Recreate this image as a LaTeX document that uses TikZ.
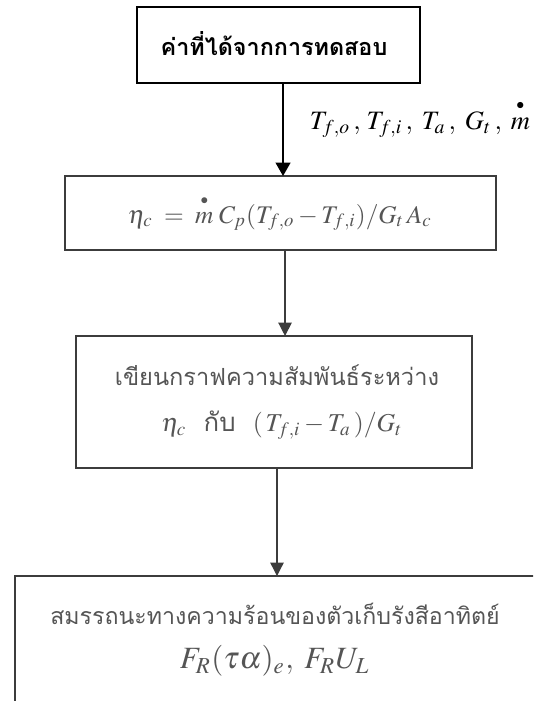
\documentclass[tikz,border=0pt]{standalone}
\usepackage{amsmath}
\usepackage{mathptmx}
\usepackage[no-math]{fontspec}
\newfontfamily\thaifont[Script=Thai]{Loma}
\usetikzlibrary{arrows.meta}
\definecolor{txtgray}{HTML}{555555}
\definecolor{linegray}{HTML}{3C3C3C}
\newcommand{\mdotsym}{\overset{\raisebox{0.1em}{\scalebox{0.6}{$\bullet$}}}{m}}
\begin{document}
\begin{tikzpicture}[x=0.75pt,y=-0.75pt,
  box/.style={draw, rectangle, inner sep=0pt, outer sep=0pt},
  arrA/.style={line width=1.5pt, -{Triangle[length=10pt,width=11pt]}},
  arrB/.style={draw=linegray, line width=1pt, -{Triangle[length=10pt,width=10pt]}},
  lbl/.style={inner sep=0pt, text=txtgray}]
\useasboundingbox (0,0) rectangle (533,701);
\clip (0,0) rectangle (533,701);

\node[box, line width=1.3pt, minimum width=212.25pt, minimum height=57pt] (box1) at (278.5,45) {};
\node[inner sep=0pt] (b1t) at (274,44)
      {\resizebox{170pt}{!}{\thaifont\bfseries ค่าที่ได้จากการทดสอบ}};

\node[box, draw=linegray, line width=1pt, minimum width=323.25pt, minimum height=55.5pt] (box2) at (280.5,213) {};
\node[lbl] (b2t) at (280,213)
      {\resizebox{228pt}{!}{$\eta_c\;=\;\mdotsym\;C_p(T_{f,o}-T_{f,i})/G_t\,A_c$}};

\node[box, draw=linegray, line width=0.9pt, minimum width=297pt, minimum height=99pt] (box3) at (274,402) {};
\node[lbl] (b3a) at (277,375) {\resizebox{243pt}{!}{\thaifont เขียนกราฟความสัมพันธ์ระหว่าง}};
\node[lbl] (b3b) at (282,425)
      {\resizebox{181pt}{!}{$\eta_c$\ \ {\thaifont กับ}\ \ $(\,T_{f,i}-T_a\,)/G_t$}};

\node[box, draw=linegray, line width=0.9pt, minimum width=408.75pt, minimum height=115.5pt] (box4) at (287.5,653) {};
\node[lbl] (b4a) at (275,614) {\resizebox{337pt}{!}{\thaifont สมรรถนะทางความร้อนของตัวเก็บรังสีอาทิตย์}};
\node[lbl] (b4b) at (275,661) {\resizebox{142.5pt}{!}{$F_R(\tau\alpha)_e,\;F_RU_L$}};

\node[inner sep=0pt] (vars) at (420,119)
      {\resizebox{165pt}{!}{$T_{f,o}\,,\,T_{f,i}\,,\;T_a\,,\;G_t\,,\;\mdotsym$}};

\coordinate (a1) at ([xshift=3.4pt]box1.south);
\coordinate (a2) at ([xshift=3.4pt]box2.south);
\coordinate (a3) at ([xshift=2.25pt]box3.south);
\draw[arrA] (a1) -- (a1 |- box2.north);
\draw[arrB] (a2) -- (a2 |- box3.north);
\draw[arrB] (a3) -- (a3 |- box4.north);
\end{tikzpicture}
\end{document}
